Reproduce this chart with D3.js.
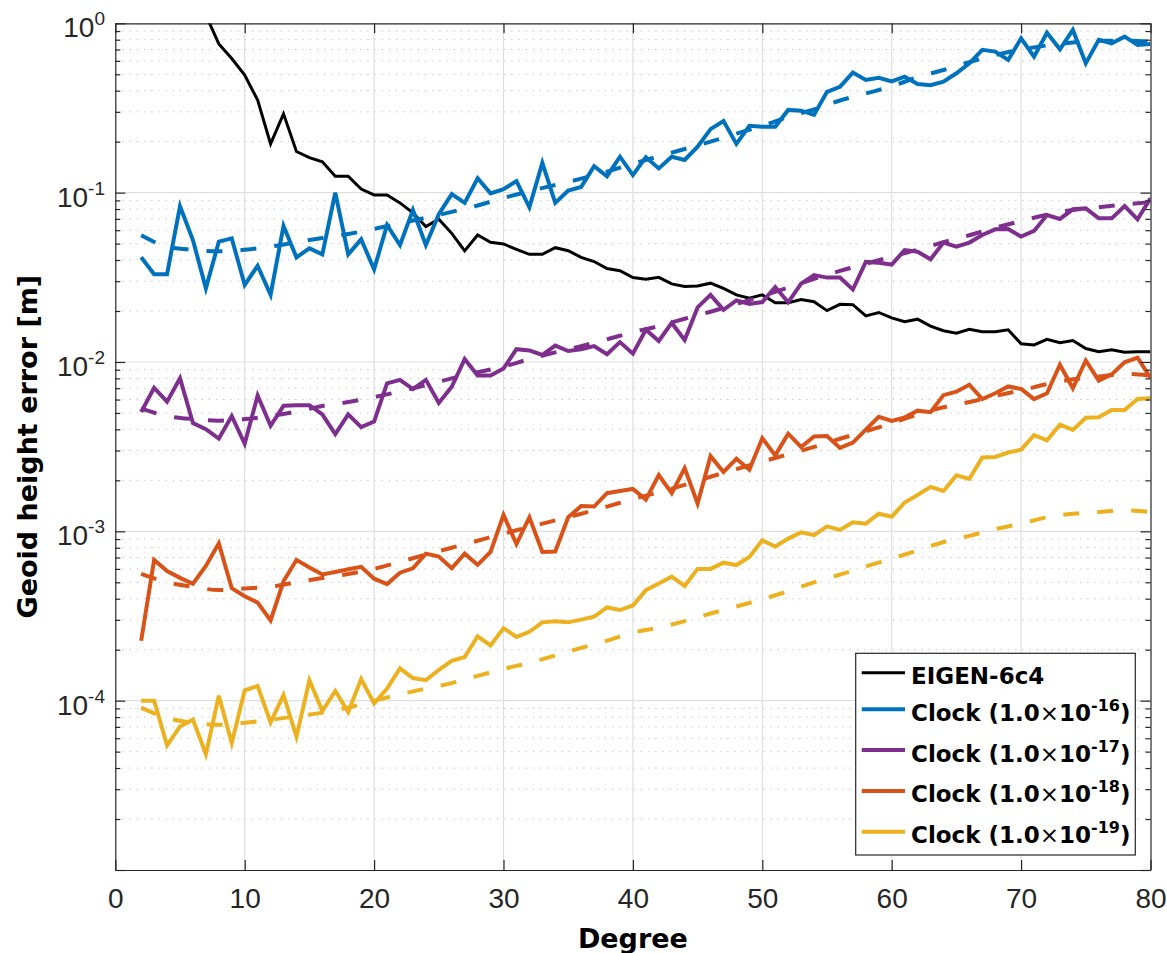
<!DOCTYPE html>
<html>
<head>
<meta charset="utf-8">
<script src="https://cdn.jsdelivr.net/npm/d3@7"></script>
<style>
  html, body { margin: 0; padding: 0; background: #fff; }
  svg { display: block; }
  .tick-label { font-family: "Liberation Sans", Arial, sans-serif; fill: #262626; }
  .bold-label { font-family: "DejaVu Sans", sans-serif; font-weight: bold; fill: #000; }
</style>
</head>
<body>
<div id="chart"></div>
<script>
// degree axis (spherical harmonic degree)
const DEGREES = [2,3,4,5,6,7,8,9,10,11,12,13,14,15,16,17,18,19,20,21,22,23,24,25,26,27,28,29,30,31,32,33,34,35,36,37,38,39,40,
  41,42,43,44,45,46,47,48,49,50,51,52,53,54,55,56,57,58,59,60,61,62,63,64,65,66,67,68,69,70,71,72,73,74,75,76,77,78,79,80];
const FIT_DEGREES = [2,4,6,8,10,12,14,16,18,20,22,24,26,28,30,32,34,36,38,40,42,44,46,48,50,52,54,56,58,60,62,64,66,68,70,72,74,76,78,80];

// EIGEN-6c4 (starts above the top of the axes; null = not plotted)
const EIGEN = [null,null,null,null,null,1.12,0.755,0.62,0.495,0.352,0.194,0.292,0.175,0.161,0.152,0.125,0.125,0.105,0.097,
  0.097,0.087,0.076,0.063,0.0697,0.0575,0.0453,0.0562,0.0509,0.0498,0.0463,0.0432,0.0432,0.0473,0.0454,0.0415,0.0392,0.0356,0.0346,0.0315,
  0.0308,0.0316,0.0289,0.0279,0.0281,0.0292,0.0272,0.0249,0.0238,0.0249,0.0224,0.0224,0.0234,0.0227,0.0201,0.0219,0.0218,0.0187,0.0196,0.0182,
  0.0173,0.0179,0.0163,0.0153,0.0148,0.0156,0.0151,0.0151,0.0155,0.0128,0.0126,0.0136,0.013,0.0134,0.012,0.0115,0.0118,0.0114,0.0115,0.0115];

const CLOCK_16 = [0.0415,0.033,0.033,0.083,0.0525,0.0272,0.0514,0.0537,0.0285,0.037,0.0249,0.0636,0.0415,0.0469,0.0432,0.100,0.0432,0.053,0.0352,
  0.0644,0.049,0.079,0.049,0.0745,0.098,0.087,0.1216,0.099,0.1047,0.117,0.0819,0.150,0.087,0.103,0.108,0.1435,0.125,0.163,0.127,
  0.162,0.139,0.163,0.156,0.187,0.237,0.265,0.194,0.248,0.245,0.245,0.308,0.305,0.288,0.394,0.422,0.512,0.463,0.477,0.454,
  0.484,0.438,0.431,0.452,0.507,0.580,0.697,0.681,0.607,0.815,0.635,0.88,0.702,0.914,0.58,0.798,0.762,0.834,0.745,0.755];

const CLOCK_17 = [0.00507,0.00703,0.00583,0.00802,0.00436,0.00401,0.00353,0.00479,0.00329,0.00634,0.0042,0.00551,0.00556,0.00556,0.0049,0.00375,0.0049,0.00412,0.00445,
  0.00748,0.00784,0.00691,0.00784,0.00573,0.00714,0.0104,0.00833,0.00833,0.00915,0.0119,0.0117,0.011,0.0125,0.0116,0.0119,0.0124,0.0111,0.0131,0.0112,
  0.0155,0.0133,0.017,0.0135,0.021,0.0249,0.0203,0.0231,0.022,0.0226,0.0277,0.0225,0.029,0.0326,0.0315,0.0315,0.0268,0.039,0.0385,0.0376,
  0.0458,0.0448,0.0404,0.0507,0.048,0.0507,0.0562,0.0607,0.061,0.055,0.0594,0.0738,0.0699,0.0797,0.0807,0.0705,0.0705,0.0834,0.0696,0.0926];

const CLOCK_18 = [0.000226,0.000678,0.000583,0.000531,0.00049,0.000625,0.000849,0.000461,0.000414,0.000379,0.000298,0.000507,0.000678,0.000611,0.000556,0.000575,0.000597,0.000617,0.000525,
  0.000488,0.00057,0.000605,0.000738,0.00071,0.000605,0.000738,0.000634,0.000755,0.00125,0.000841,0.00121,0.000755,0.00076,0.00121,0.00141,0.0014,0.00168,0.00173,0.00178,
  0.00154,0.00215,0.00168,0.00236,0.00146,0.00278,0.00224,0.00268,0.00231,0.00355,0.00281,0.00377,0.00315,0.00363,0.00365,0.00311,0.00334,0.00399,0.00474,0.00449,
  0.0047,0.00516,0.00505,0.00637,0.00668,0.00734,0.00603,0.00653,0.00717,0.00693,0.00603,0.00653,0.00964,0.0070,0.0102,0.00776,0.00845,0.00995,0.0106,0.00805];

const CLOCK_19 = [0.0001,0.0001,0.0000544,0.0000704,0.0000773,0.0000483,0.000107,0.0000562,0.000115,0.000122,0.0000744,0.000108,0.0000611,0.000132,0.0000869,0.000114,0.0000857,0.000134,0.0000962,
  0.000118,0.000155,0.000136,0.000132,0.000152,0.000172,0.000181,0.00024,0.000212,0.000268,0.000238,0.000255,0.00029,0.000294,0.00029,0.000301,0.000313,0.000355,0.000343,0.000365,
  0.000449,0.000492,0.00054,0.000476,0.0006,0.0006,0.000653,0.000632,0.000706,0.000885,0.000813,0.000906,0.000986,0.00095,0.00107,0.00102,0.00113,0.00111,0.00127,0.00122,
  0.00148,0.00164,0.00183,0.00173,0.00214,0.00204,0.00273,0.00275,0.00292,0.00303,0.0037,0.00345,0.00426,0.00397,0.00468,0.00472,0.00521,0.00521,0.00605,0.00611];

// smooth fits (dashed)
const FIT_16 = [0.056,0.048,0.046,0.045,0.046,0.048,0.051,0.054,0.057,0.061,0.066,0.071,0.077,0.084,0.093,0.102,0.111,0.121,0.133,0.148,
  0.164,0.181,0.200,0.223,0.248,0.28,0.31,0.35,0.385,0.425,0.48,0.53,0.59,0.65,0.70,0.74,0.77,0.79,0.79,0.78];
const FIT_17 = [0.0053,0.0048,0.0046,0.0045,0.0046,0.0048,0.0051,0.0055,0.0058,0.0062,0.0067,0.0073,0.008,0.0087,0.0094,0.0104,0.0114,0.0124,0.0136,0.015,
  0.0163,0.018,0.0198,0.022,0.0245,0.0275,0.031,0.0345,0.038,0.042,0.046,0.051,0.056,0.062,0.068,0.074,0.079,0.082,0.085,0.088];
const FIT_18 = [0.00056,0.0005,0.00047,0.00045,0.00046,0.00047,0.0005,0.00053,0.00056,0.0006,0.00066,0.00073,0.0008,0.00088,0.00097,0.00106,0.00116,0.00127,0.0014,0.00155,
  0.0017,0.00188,0.0021,0.00233,0.00258,0.00285,0.00315,0.00352,0.0039,0.00435,0.0049,0.0054,0.0058,0.0063,0.0068,0.0074,0.0079,0.0082,0.0085,0.0083];
const FIT_19 = [0.000091,0.000079,0.000074,0.000072,0.000074,0.000077,0.000081,0.000085,0.000091,0.0001,0.000109,0.000118,0.000127,0.00014,0.000154,0.000167,0.000185,0.000205,0.000226,0.000252,
  0.00027,0.000295,0.000327,0.00036,0.000397,0.000443,0.0005,0.000555,0.00062,0.00069,0.00077,0.000865,0.00094,0.00103,0.00111,0.00121,0.00127,0.0013,0.00133,0.0013];

const X_TICKS = [0,10,20,30,40,50,60,70,80];
const Y_DECADES = [1e-5,1e-4,1e-3,1e-2,1e-1,1];
const Y_LABELS = [null,"-4","-3","-2","-1","0"];   // exponents shown at each decade

const SERIES = [
  { name: "EIGEN-6c4", values: EIGEN, fit: null, color: "#000000", width: 3 },
  { name: "Clock", exp: "-16", values: CLOCK_16, fit: FIT_16, color: "#0072BD", width: 4 },
  { name: "Clock", exp: "-17", values: CLOCK_17, fit: FIT_17, color: "#7E2F8E", width: 4 },
  { name: "Clock", exp: "-18", values: CLOCK_18, fit: FIT_18, color: "#D95319", width: 4 },
  { name: "Clock", exp: "-19", values: CLOCK_19, fit: FIT_19, color: "#EDB120", width: 4 }
];

// 圖表尺寸
const width = 1167, height = 953;
const plotLeft = 115.3, plotRight = 1150.5, plotTop = 23.3, plotBottom = 870;
const axisColor = "#262626";

const svg = d3.select("#chart").append("svg")
  .attr("width", width).attr("height", height);

const x = d3.scaleLinear().domain([0, 80]).range([plotLeft, plotRight]);
const y = d3.scaleLog().domain([1e-5, 1]).range([plotBottom, plotTop]);

// minor decade values 2..9 x 10^n
const minorVals = [];
Y_DECADES.slice(0, -1).forEach(d => {
  for (let k = 2; k <= 9; k++) minorVals.push(d * k);
});

// 網格
const grid = svg.append("g");
grid.selectAll(".minor").data(minorVals).join("line")
  .attr("x1", plotLeft).attr("x2", plotRight)
  .attr("y1", d => y(d)).attr("y2", d => y(d))
  .attr("stroke", "#bdbdbd").attr("stroke-width", 1)
  .attr("stroke-dasharray", "1.2,6");
grid.selectAll(".hmajor").data(Y_DECADES.slice(1, -1)).join("line")
  .attr("x1", plotLeft).attr("x2", plotRight)
  .attr("y1", d => y(d)).attr("y2", d => y(d))
  .attr("stroke", "#dfdfdf").attr("stroke-width", 1.2);
grid.selectAll(".vmajor").data(X_TICKS.slice(1, -1)).join("line")
  .attr("y1", plotTop).attr("y2", plotBottom)
  .attr("x1", d => x(d)).attr("x2", d => x(d))
  .attr("stroke", "#dfdfdf").attr("stroke-width", 1.2);

// 資料線
svg.append("defs").append("clipPath").attr("id", "plot-clip")
  .append("rect").attr("x", plotLeft).attr("y", plotTop)
  .attr("width", plotRight - plotLeft).attr("height", plotBottom - plotTop);

const plot = svg.append("g").attr("clip-path", "url(#plot-clip)");

const solidLine = d3.line()
  .defined(d => d.v != null)
  .x(d => x(d.deg)).y(d => y(d.v));
const fitLine = d3.line()
  .x(d => x(d.deg)).y(d => y(d.v))
  .curve(d3.curveMonotoneX);

SERIES.forEach(s => {
  plot.append("path")
    .datum(DEGREES.map((deg, i) => ({ deg, v: s.values[i] })))
    .attr("d", solidLine)
    .attr("fill", "none")
    .attr("stroke", s.color)
    .attr("stroke-width", s.width)
    .attr("stroke-linejoin", "miter");
  if (s.fit) {
    plot.append("path")
      .datum(FIT_DEGREES.map((deg, i) => ({ deg, v: s.fit[i] })))
      .attr("d", fitLine)
      .attr("fill", "none")
      .attr("stroke", s.color)
      .attr("stroke-width", s.width)
      .attr("stroke-dasharray", "16,18");
  }
});

// 座標軸
function styleAxis(g) {
  g.selectAll("path, line").attr("stroke", axisColor).attr("stroke-width", 1.2);
}

svg.append("g").attr("transform", `translate(0,${plotBottom})`)
  .call(d3.axisBottom(x).tickValues(X_TICKS).tickSize(-10).tickSizeOuter(0).tickPadding(18.4))
  .call(styleAxis)
  .call(g => g.selectAll("text").attr("class", "tick-label")
    .attr("font-size", 28).attr("fill", axisColor))
  .attr("font-family", null).attr("font-size", null);

svg.append("g").attr("transform", `translate(0,${plotTop})`)
  .call(d3.axisTop(x).tickValues(X_TICKS).tickSize(-10).tickSizeOuter(0).tickFormat(""))
  .call(styleAxis);

[[d3.axisLeft, plotLeft], [d3.axisRight, plotRight]].forEach(([axisFn, xpos]) => {
  svg.append("g").attr("transform", `translate(${xpos},0)`)
    .call(axisFn(y).tickValues(Y_DECADES).tickSize(-10).tickSizeOuter(0).tickFormat(""))
    .call(styleAxis);
  svg.append("g").attr("transform", `translate(${xpos},0)`)
    .call(axisFn(y).tickValues(minorVals).tickSize(-5).tickSizeOuter(0).tickFormat(""))
    .call(styleAxis)
    .call(g => g.select(".domain").remove());
});

// y tick labels 10^n
const yLabels = svg.append("g");
Y_DECADES.forEach((d, i) => {
  if (Y_LABELS[i] == null) return;
  const t = yLabels.append("text").attr("class", "tick-label")
    .attr("x", 105).attr("y", y(d) + 14)
    .attr("text-anchor", "end").attr("font-size", 28);
  t.append("tspan").text("10");
  t.append("tspan").attr("dy", -12).attr("font-size", 19).text(Y_LABELS[i]);
});

// axis titles
svg.append("text").attr("class", "bold-label")
  .attr("x", (plotLeft + plotRight) / 2).attr("y", 948)
  .attr("text-anchor", "middle").attr("font-size", 27)
  .text("Degree");

svg.append("text").attr("class", "bold-label")
  .attr("transform", `translate(37,${(plotTop + plotBottom) / 2}) rotate(-90)`)
  .attr("text-anchor", "middle").attr("font-size", 27)
  .text("Geoid height error [m]");

// 圖例
const legend = svg.append("g");
legend.append("rect")
  .attr("x", 855.7).attr("y", 653.3)
  .attr("width", 279.6).attr("height", 201.7)
  .attr("fill", "#fff").attr("stroke", axisColor).attr("stroke-width", 1.2);

SERIES.forEach((s, i) => {
  const ly = i === 0 ? 672.7 : 709.3 + 40.8 * (i - 1);
  legend.append("line")
    .attr("x1", 861.7).attr("x2", 905)
    .attr("y1", ly).attr("y2", ly)
    .attr("stroke", s.color).attr("stroke-width", s.width);
  const t = legend.append("text").attr("class", "bold-label")
    .attr("x", 911).attr("y", ly + 11.5).attr("font-size", 23);
  if (!s.exp) {
    t.text(s.name);
  } else {
    t.append("tspan").text(s.name + " (1.0");
    t.append("tspan").attr("font-weight", "normal").text("\u00d7");
    t.append("tspan").text("10");
    t.append("tspan").attr("dy", -10).attr("font-size", 16).text(s.exp);
    t.append("tspan").attr("dy", 10).text(")");
  }
});
</script>
</body>
</html>
